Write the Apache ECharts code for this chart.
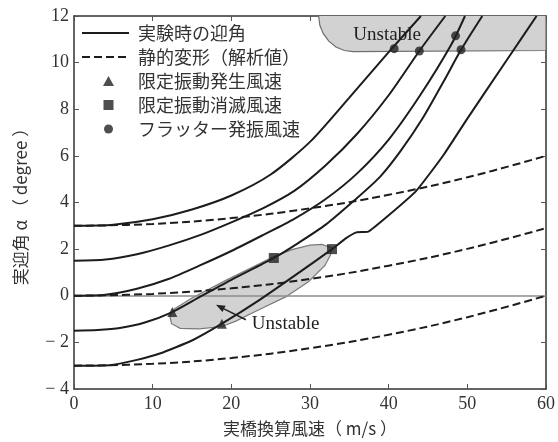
<!DOCTYPE html>
<html>
<head>
<meta charset="utf-8">
<script src="https://cdn.jsdelivr.net/npm/echarts@6/dist/echarts.min.js"></script>
<style>
html, body { margin: 0; padding: 0; background: #fff; }
#chart { width: 558px; height: 442px; }
</style>
</head>
<body>
<div id="chart"></div>
<script>
// Measured angle of attack [deg] against full-scale wind speed [m/s], one curve per initial angle
const measuredFrom3 = [[0,3],[5,3.05],[10,3.28],[15,3.7],[20,4.3],[25,5.2],[30,6.6],[35,8.5],[40,10.45],[44.1,12]];
const measuredFrom1_5 = [[0,1.5],[4,1.55],[8,1.78],[12,2.15],[16,2.6],[20,3.15],[24,3.75],[28,4.5],[32,5.6],[36,6.95],[40,8.6],[43.9,10.5],[47.2,12]];
const measuredFrom0 = [[0,0],[4,0.04],[8,0.3],[12,0.72],[16,1.3],[20,1.92],[24,2.6],[28,3.3],[32,4.15],[36,5.25],[40,6.7],[44,8.6],[48,10.8],[49.7,12]];
const measuredFromM1_5 = [[0,-1.5],[3,-1.47],[6,-1.37],[9,-1.15],[12.5,-0.7],[16,-0.05],[20,0.68],[25.4,1.62],[28.5,2.26],[32,3.05],[35.5,4.05],[38.9,5.1],[41.5,6.2],[44.3,7.6],[47,9.2],[49.2,10.55],[51.9,12]];
const measuredFromM3 = [[0,-3],[4.5,-2.98],[8,-2.75],[10.9,-2.48],[15,-1.92],[18.8,-1.2],[23.5,-0.2],[28,0.85],[32.8,2.0],[34.5,2.45],[35.9,2.72],[37.4,2.75],[40,3.45],[43.5,4.5],[47,6.05],[50,7.6],[55,10.1],[58.8,12]];

// Static deformation (analysis)
const staticFrom3 = [[0,3],[10,3.08],[20,3.33],[30,3.75],[40,4.33],[50,5.08],[60,6.0]];
const staticFrom0 = [[0,0],[10,0.08],[20,0.32],[30,0.72],[40,1.29],[50,2.01],[60,2.9]];
const staticFromM3 = [[0,-3],[10,-2.92],[20,-2.67],[30,-2.25],[40,-1.67],[50,-0.92],[60,0]];

// Limited-amplitude vibration onset / disappearance, flutter onset
const onsetPoints = [[12.5,-0.7],[18.8,-1.2]];
const vanishPoints = [[25.4,1.62],[32.8,2.0]];
const flutterPoints = [[40.7,10.6],[43.9,10.5],[48.5,11.15],[49.2,10.55]];

// Unstable zones (outline vertices)
const unstableUpper = [[31.1,12],[31.25,11.6],[31.69,11.24],[32.39,10.92],[33.3,10.67],[34.36,10.52],[35.5,10.47],[60,10.52],[60,12.4],[31.1,12.4]];
const unstableLower = [[12.2,-0.9],[12.5,-0.62],[15,-0.1],[19.3,0.66],[23.5,1.36],[25.4,1.68],[27.7,1.98],[30,2.17],[31.5,2.2],[32.8,2.05],[32.6,1.75],[31.9,1.3],[29.8,0.6],[26.9,-0.05],[23.5,-0.6],[20.5,-1.1],[18.8,-1.32],[15.9,-1.42],[13.5,-1.4],[12.4,-1.2]];

const xTicks = [0, 10, 20, 30, 40, 50, 60];
const yTicks = [-4, -2, 0, 2, 4, 6, 8, 10, 12];

const NAME_MEASURED = '実験時の迎角';
const NAME_STATIC = '静的変形（解析値）';
const NAME_ONSET = '限定振動発生風速';
const NAME_VANISH = '限定振動消滅風速';
const NAME_FLUTTER = 'フラッター発振風速';

const serif = "'Liberation Serif', 'DejaVu Serif', serif";
const cjk = "'Noto Sans CJK JP', sans-serif";
const ink = '#1c1c1c';

// legend marker outlines, laid out in a 47 x 10 icon box
const ICON_TRIANGLE = 'path://M0,0M47,10M21,10L26.5,0L32,10Z';
const ICON_SQUARE = 'path://M0,0M47,10M21.5,0L31.5,0L31.5,10L21.5,10Z';
const ICON_DOT = 'path://M0,0M47,10M22,5A4.5,4.5,0,1,1,31,5A4.5,4.5,0,1,1,22,5Z';

function regionSeries(points, fill, stroke) {
  return {
    type: 'custom',
    silent: true,
    z: 1,
    clip: true,
    data: points,
    renderItem: function (params, api) {
      if (params.dataIndex !== 0) return;
      const pts = points.map(p => api.coord(p));
      return {
        type: 'polygon',
        shape: { points: pts },
        style: { fill: fill, stroke: stroke, lineWidth: 1.2 }
      };
    }
  };
}

function measuredSeries(data, extra) {
  return Object.assign({
    name: NAME_MEASURED,
    type: 'line',
    data: data,
    symbol: 'none',
    smooth: 0.25,
    z: 3,
    lineStyle: { color: ink, width: 2 },
    itemStyle: { color: ink }
  }, extra || {});
}

function staticSeries(data) {
  return {
    name: NAME_STATIC,
    type: 'line',
    data: data,
    symbol: 'none',
    smooth: 0.4,
    z: 3,
    lineStyle: { color: ink, width: 2, type: [8, 4] },
    itemStyle: { color: ink }
  };
}

const axisLineStyle = { show: true, onZero: false, lineStyle: { color: '#333', width: 1.5 } };
const tickStyle = { show: true, inside: true, length: 5, lineStyle: { color: '#555', width: 1 } };
const hiddenMarker = { opacity: 0, color: 'transparent', borderWidth: 0 };

const option = {
  animation: false,
  backgroundColor: '#fff',
  grid: { left: 74, right: 9, top: 16, bottom: 49, containLabel: false },
  legend: {
    orient: 'vertical',
    left: 81,
    top: 24,
    padding: 0,
    itemWidth: 47,
    itemHeight: 10,
    itemGap: 6,
    textStyle: { fontFamily: cjk, fontSize: 18, color: '#333', padding: [0, 0, 0, 4] },
    data: [
      { name: NAME_MEASURED, itemStyle: hiddenMarker },
      { name: NAME_STATIC, itemStyle: hiddenMarker },
      { name: NAME_ONSET, icon: ICON_TRIANGLE },
      { name: NAME_VANISH, icon: ICON_SQUARE },
      { name: NAME_FLUTTER, icon: ICON_DOT }
    ]
  },
  xAxis: [
    {
      type: 'value', min: xTicks[0], max: xTicks[xTicks.length - 1], interval: 10,
      position: 'bottom',
      axisLine: axisLineStyle, axisTick: tickStyle,
      axisLabel: { fontFamily: serif, fontSize: 18, color: '#333', margin: 6 },
      splitLine: { show: false },
      name: '実橋換算風速（ m/s ）', nameLocation: 'middle', nameGap: 31,
      nameTextStyle: { fontFamily: cjk, fontSize: 17, color: '#333' }
    },
    {
      type: 'value', min: xTicks[0], max: xTicks[xTicks.length - 1], interval: 10,
      position: 'top',
      axisLine: axisLineStyle, axisTick: tickStyle,
      axisLabel: { show: false }, splitLine: { show: false }
    }
  ],
  yAxis: [
    {
      type: 'value', min: yTicks[0], max: yTicks[yTicks.length - 1], interval: 2,
      position: 'left',
      axisLine: axisLineStyle, axisTick: tickStyle,
      axisLabel: {
        fontFamily: serif, fontSize: 18, color: '#333', margin: 5,
        formatter: v => (v < 0 ? '\u2212 ' + Math.abs(v) : String(v))
      },
      splitLine: { show: false },
      name: '実迎角 α （ degree ）', nameLocation: 'middle', nameGap: 45, nameRotate: 90,
      nameTextStyle: { fontFamily: cjk, fontSize: 17, color: '#333' }
    },
    {
      type: 'value', min: yTicks[0], max: yTicks[yTicks.length - 1], interval: 2,
      position: 'right',
      axisLine: axisLineStyle, axisTick: tickStyle,
      axisLabel: { show: false }, splitLine: { show: false }
    }
  ],
  series: [
    regionSeries(unstableUpper, '#d2d2d2', '#6e6e6e'),
    regionSeries(unstableLower, '#d2d2d2', '#7a7a7a'),
    measuredSeries(measuredFrom3, {
      markLine: {
        silent: true, symbol: 'none', z: 2,
        label: { show: false },
        lineStyle: { color: '#8c8c8c', width: 1.5, type: 'solid' },
        data: [{ yAxis: 0 }]
      }
    }),
    measuredSeries(measuredFrom1_5),
    measuredSeries(measuredFrom0),
    measuredSeries(measuredFromM1_5),
    measuredSeries(measuredFromM3, { smooth: 0.15 }),
    staticSeries(staticFrom3),
    staticSeries(staticFrom0),
    staticSeries(staticFromM3),
    {
      name: NAME_ONSET, type: 'scatter', data: onsetPoints,
      symbol: 'triangle', symbolSize: 10, z: 5,
      itemStyle: { color: '#222' }
    },
    {
      name: NAME_VANISH, type: 'scatter', data: vanishPoints,
      symbol: 'rect', symbolSize: 10, z: 5,
      itemStyle: { color: '#222' }
    },
    {
      name: NAME_FLUTTER, type: 'scatter', data: flutterPoints,
      symbol: 'circle', symbolSize: 9, z: 5,
      itemStyle: { color: '#222' }
    },
    {
      // zone labels and the pointer arrow
      type: 'custom', silent: true, z: 6, clip: false,
      data: [[0, 0]],
      renderItem: function (params, api) {
        const upper = api.coord([39.8, 11.2]);
        const lower = api.coord([26.9, -1.22]);
        const a0 = api.coord([21.85, -1.03]);
        const a1 = api.coord([18.05, -0.39]);
        const dx = a1[0] - a0[0], dy = a1[1] - a0[1];
        const len = Math.sqrt(dx * dx + dy * dy);
        const ux = dx / len, uy = dy / len;
        const hl = 9, hw = 3.5;
        const bx = a1[0] - ux * hl, by = a1[1] - uy * hl;
        const textStyle = { fontFamily: serif, fontSize: 19, fill: '#1e1e1e', align: 'center', verticalAlign: 'middle' };
        return {
          type: 'group',
          children: [
            { type: 'text', style: Object.assign({ x: upper[0], y: upper[1], text: 'Unstable' }, textStyle) },
            { type: 'text', style: Object.assign({ x: lower[0], y: lower[1], text: 'Unstable' }, textStyle) },
            { type: 'line', shape: { x1: a0[0], y1: a0[1], x2: bx, y2: by }, style: { stroke: '#222', lineWidth: 1.5 } },
            { type: 'polygon', shape: { points: [a1, [bx - uy * hw, by + ux * hw], [bx + uy * hw, by - ux * hw]] }, style: { fill: '#222' } }
          ]
        };
      }
    }
  ]
};

const chart = echarts.init(document.getElementById('chart'), null, { renderer: 'canvas' });
chart.setOption(option);
</script>
</body>
</html>
